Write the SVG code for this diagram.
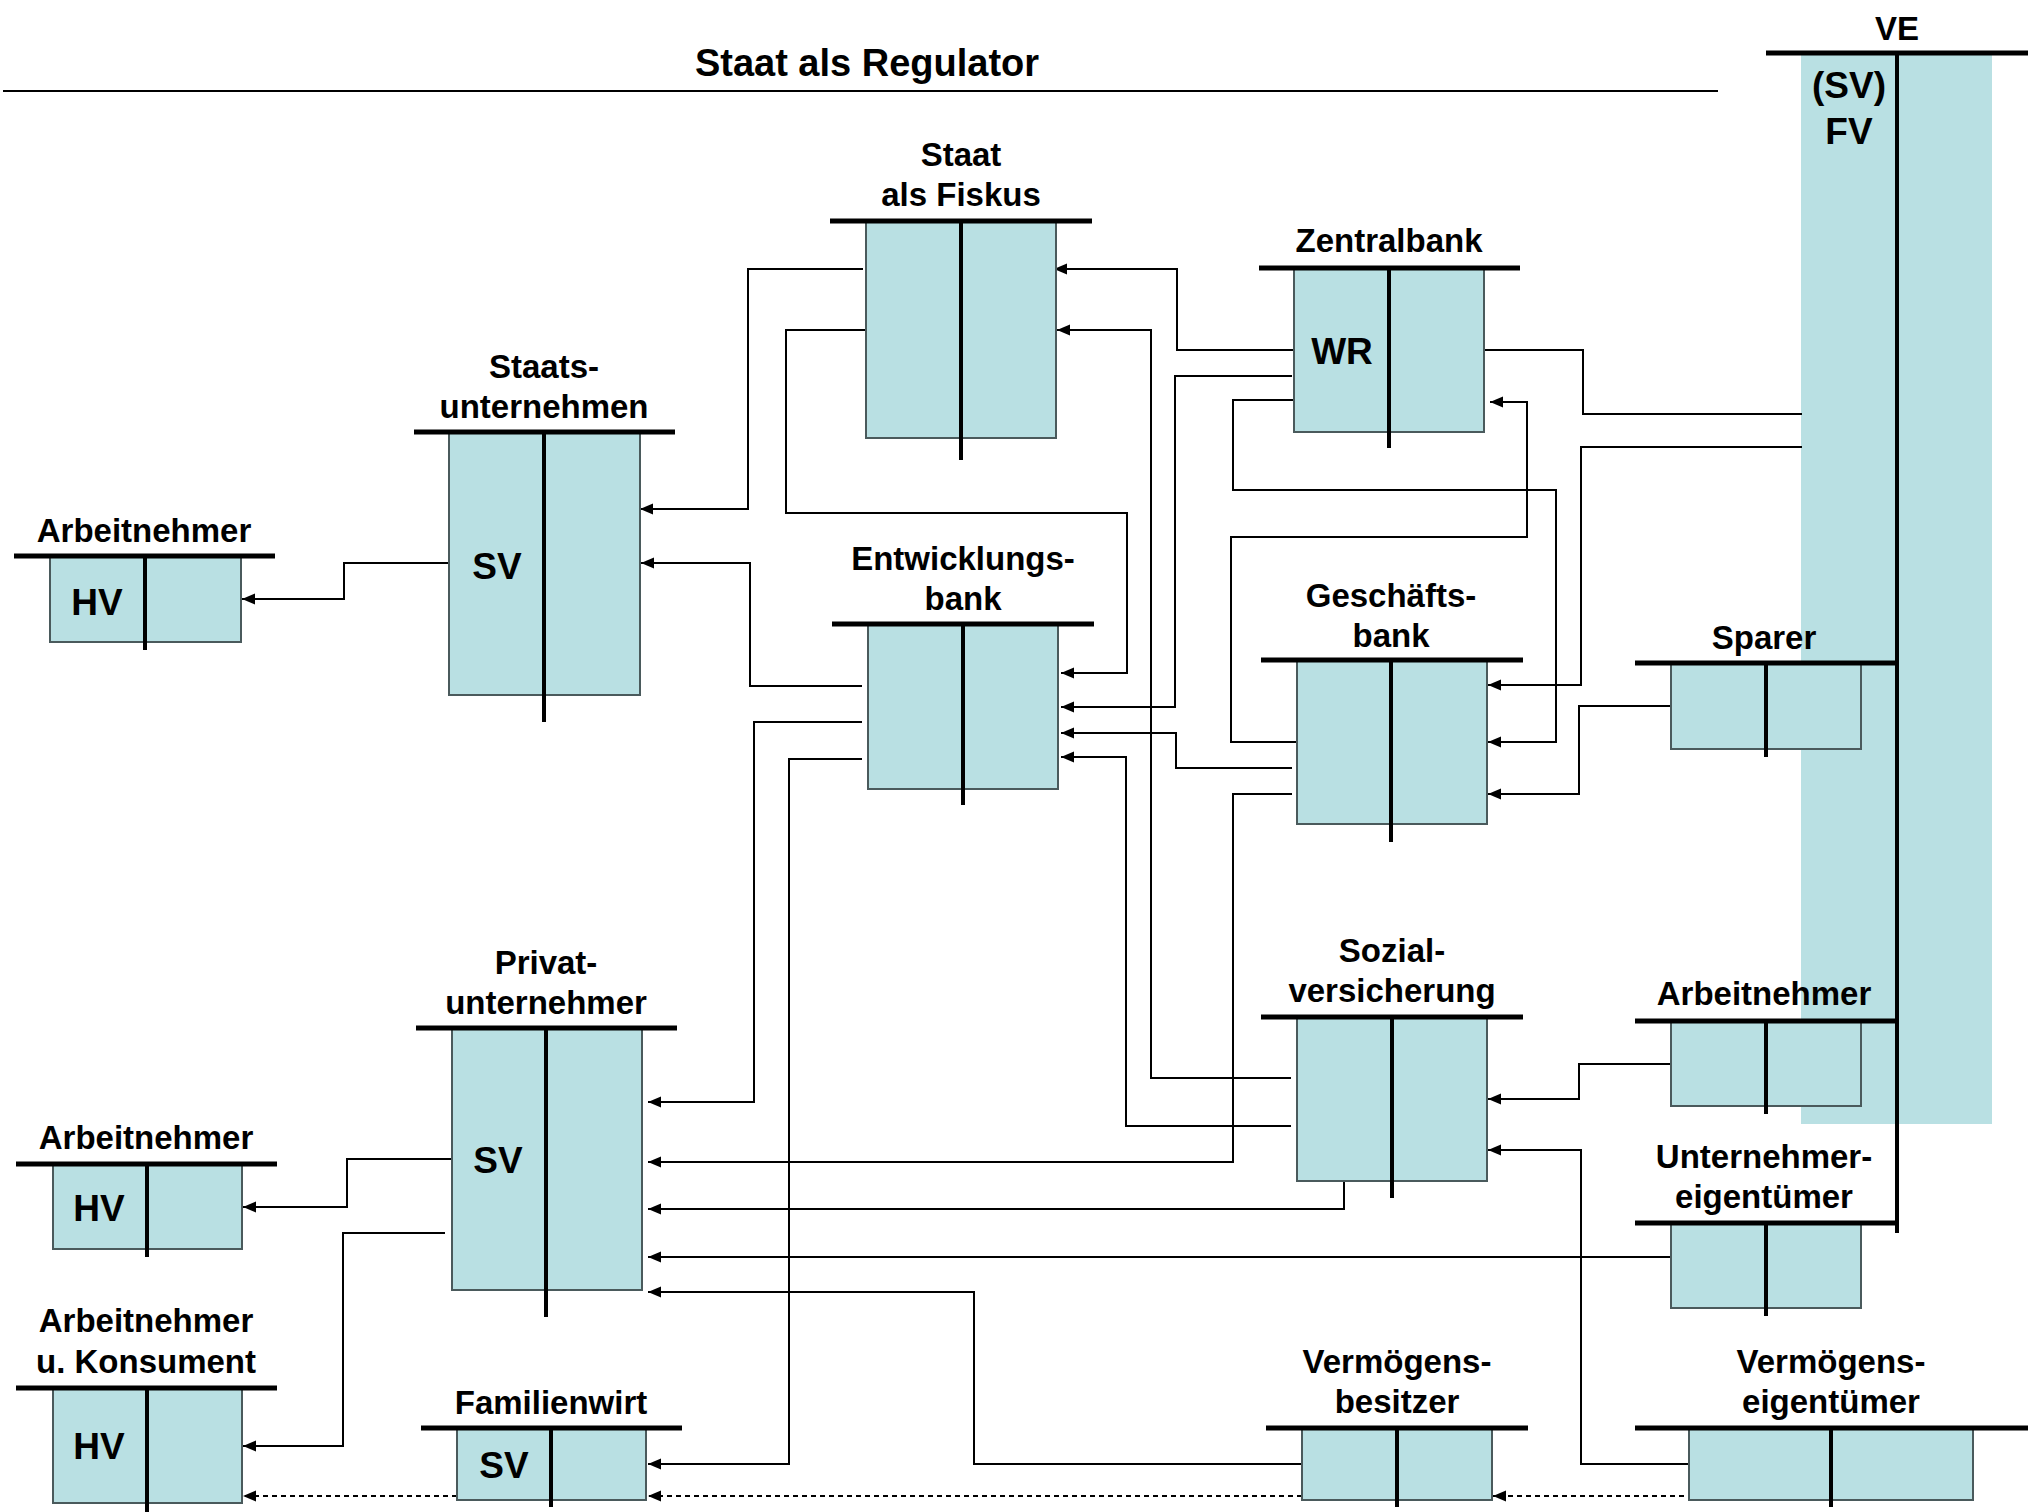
<svg xmlns="http://www.w3.org/2000/svg" width="2042" height="1512" viewBox="0 0 2042 1512">
<style>
.bg{fill:#ffffff}
.box{fill:#b9e0e3;stroke:#4a5a5c;stroke-width:2}
.ve{fill:#b9e0e3;stroke:none}
.bar{stroke:#000;stroke-width:5;fill:none}
.stem{stroke:#000;stroke-width:4;fill:none}
.lbl{font-family:"Liberation Sans",Arial,sans-serif;font-weight:bold;font-size:33px;fill:#000;text-anchor:middle}
.in{font-family:"Liberation Sans",Arial,sans-serif;font-weight:bold;font-size:37px;fill:#000;text-anchor:middle}
.title{font-family:"Liberation Sans",Arial,sans-serif;font-weight:bold;font-size:38px;fill:#000;text-anchor:middle}
.c{fill:none;stroke:#000;stroke-width:2;marker-end:url(#ah)}
.d{fill:none;stroke:#000;stroke-width:2;stroke-dasharray:5,4;marker-end:url(#ah)}
</style>
<defs>
<marker id="ah" markerUnits="userSpaceOnUse" markerWidth="14" markerHeight="12" refX="13" refY="5.5" orient="auto">
<path d="M0,0 L13,5.5 L0,11 z" fill="#000"/>
</marker>
</defs>
<rect class="bg" x="0" y="0" width="2042" height="1512"/>

<g id="title">
<text class="title" x="867" y="76">Staat als Regulator</text>
<line x1="3" y1="91" x2="1718" y2="91" stroke="#000" stroke-width="2"/>
</g>

<g id="ve">
<rect class="ve" x="1801" y="53" width="191" height="1071"/>
<line class="bar" x1="1766" y1="53" x2="2028" y2="53"/>
<line class="stem" x1="1897" y1="53" x2="1897" y2="1233"/>
<text class="lbl" x="1897" y="40">VE</text>
<text class="in" x="1849" y="98">(SV)</text>
<text class="in" x="1849" y="144">FV</text>
</g>

<g id="connectors">
<path class="c" d="M863,269 H748 V509 H640"/>
<path class="c" d="M866,330 H786 V513 H1127 V673 H1061"/>
<path class="c" d="M862,686 H750 V563 H641"/>
<path class="c" d="M449,563 H344 V599 H242"/>
<path class="c" d="M1294,350 H1177 V269 H1054"/>
<path class="c" d="M1291,1078 H1151 V330 H1057"/>
<path class="c" d="M1292,376 H1175 V707 H1061"/>
<path class="c" d="M1293,400 H1233 V490 H1556 V742 H1488"/>
<path class="c" d="M1297,742 H1231 V537 H1527 V402 H1490"/>
<path fill="none" stroke="#000" stroke-width="2" d="M1484,350 H1583 V414 H1802"/>
<path class="c" d="M1802,447 H1581 V685 H1488"/>
<path class="c" d="M1292,768 H1176 V733 H1061"/>
<path class="c" d="M1292,794 H1233 V1162 H648"/>
<path class="c" d="M1671,706 H1579 V794 H1488"/>
<path class="c" d="M862,722 H754 V1102 H648"/>
<path class="c" d="M862,759 H789 V1464 H648"/>
<path class="c" d="M1291,1126 H1126 V757 H1061"/>
<path class="c" d="M1344,1181 V1209 H648"/>
<path class="c" d="M1671,1257 H648"/>
<path class="c" d="M1302,1464 H974 V1292 H648"/>
<path class="c" d="M1671,1064 H1579 V1099 H1488"/>
<path class="c" d="M1689,1464 H1581 V1150 H1488"/>
<path class="c" d="M452,1159 H347 V1207 H243"/>
<path class="c" d="M445,1233 H343 V1446 H243"/>
<path class="d" d="M1684,1496 H1493"/>
<path class="d" d="M1302,1496 H648"/>
<path class="d" d="M457,1496 H243"/>
</g>

<g id="fiskus">
<rect class="box" x="866" y="221" width="190" height="217"/>
<line class="bar" x1="830" y1="221" x2="1092" y2="221"/>
<line class="stem" x1="961" y1="221" x2="961" y2="460"/>
<text class="lbl" x="961" y="166">Staat</text>
<text class="lbl" x="961" y="206">als Fiskus</text>
</g>

<g id="zentralbank">
<rect class="box" x="1294" y="268" width="190" height="164"/>
<line class="bar" x1="1259" y1="268" x2="1520" y2="268"/>
<line class="stem" x1="1389" y1="268" x2="1389" y2="448"/>
<text class="lbl" x="1389" y="252">Zentralbank</text>
<text class="in" x="1342" y="364">WR</text>
</g>

<g id="staatsunternehmen">
<rect class="box" x="449" y="432" width="191" height="263"/>
<line class="bar" x1="414" y1="432" x2="675" y2="432"/>
<line class="stem" x1="544" y1="432" x2="544" y2="722"/>
<text class="lbl" x="544" y="378">Staats-</text>
<text class="lbl" x="544" y="418">unternehmen</text>
<text class="in" x="497" y="579">SV</text>
</g>

<g id="arbeitnehmer1">
<rect class="box" x="50" y="556" width="191" height="86"/>
<line class="bar" x1="14" y1="556" x2="275" y2="556"/>
<line class="stem" x1="145" y1="556" x2="145" y2="650"/>
<text class="lbl" x="144" y="542">Arbeitnehmer</text>
<text class="in" x="97" y="615">HV</text>
</g>

<g id="entwicklungsbank">
<rect class="box" x="868" y="624" width="190" height="165"/>
<line class="bar" x1="832" y1="624" x2="1094" y2="624"/>
<line class="stem" x1="963" y1="624" x2="963" y2="805"/>
<text class="lbl" x="963" y="570">Entwicklungs-</text>
<text class="lbl" x="963" y="610">bank</text>
</g>

<g id="geschaeftsbank">
<rect class="box" x="1297" y="660" width="190" height="164"/>
<line class="bar" x1="1261" y1="660" x2="1523" y2="660"/>
<line class="stem" x1="1391" y1="660" x2="1391" y2="842"/>
<text class="lbl" x="1391" y="607">Geschäfts-</text>
<text class="lbl" x="1391" y="647">bank</text>
</g>

<g id="sparer">
<rect class="box" x="1671" y="663" width="190" height="86"/>
<line class="bar" x1="1635" y1="663" x2="1896" y2="663"/>
<line class="stem" x1="1766" y1="663" x2="1766" y2="757"/>
<text class="lbl" x="1764" y="649">Sparer</text>
</g>

<g id="privatunternehmer">
<rect class="box" x="452" y="1028" width="190" height="262"/>
<line class="bar" x1="416" y1="1028" x2="677" y2="1028"/>
<line class="stem" x1="546" y1="1028" x2="546" y2="1317"/>
<text class="lbl" x="546" y="974">Privat-</text>
<text class="lbl" x="546" y="1014">unternehmer</text>
<text class="in" x="498" y="1173">SV</text>
</g>

<g id="arbeitnehmer2">
<rect class="box" x="53" y="1164" width="189" height="85"/>
<line class="bar" x1="16" y1="1164" x2="277" y2="1164"/>
<line class="stem" x1="147" y1="1164" x2="147" y2="1257"/>
<text class="lbl" x="146" y="1149">Arbeitnehmer</text>
<text class="in" x="99" y="1221">HV</text>
</g>

<g id="sozialversicherung">
<rect class="box" x="1297" y="1017" width="190" height="164"/>
<line class="bar" x1="1261" y1="1017" x2="1523" y2="1017"/>
<line class="stem" x1="1392" y1="1017" x2="1392" y2="1198"/>
<text class="lbl" x="1392" y="962">Sozial-</text>
<text class="lbl" x="1392" y="1002">versicherung</text>
</g>

<g id="arbeitnehmer3">
<rect class="box" x="1671" y="1021" width="190" height="85"/>
<line class="bar" x1="1635" y1="1021" x2="1896" y2="1021"/>
<line class="stem" x1="1766" y1="1021" x2="1766" y2="1114"/>
<text class="lbl" x="1764" y="1005">Arbeitnehmer</text>
</g>

<g id="unternehmereigentuemer">
<rect class="box" x="1671" y="1223" width="190" height="85"/>
<line class="bar" x1="1635" y1="1223" x2="1896" y2="1223"/>
<line class="stem" x1="1766" y1="1223" x2="1766" y2="1316"/>
<text class="lbl" x="1764" y="1168">Unternehmer-</text>
<text class="lbl" x="1764" y="1208">eigentümer</text>
</g>

<g id="arbeitnehmer-konsument">
<rect class="box" x="53" y="1388" width="189" height="115"/>
<line class="bar" x1="16" y1="1388" x2="277" y2="1388"/>
<line class="stem" x1="147" y1="1388" x2="147" y2="1512"/>
<text class="lbl" x="146" y="1332">Arbeitnehmer</text>
<text class="lbl" x="146" y="1373">u. Konsument</text>
<text class="in" x="99" y="1459">HV</text>
</g>

<g id="familienwirt">
<rect class="box" x="457" y="1428" width="189" height="72"/>
<line class="bar" x1="421" y1="1428" x2="682" y2="1428"/>
<line class="stem" x1="551" y1="1428" x2="551" y2="1507"/>
<text class="lbl" x="551" y="1414">Familienwirt</text>
<text class="in" x="504" y="1478">SV</text>
</g>

<g id="vermoegensbesitzer">
<rect class="box" x="1302" y="1428" width="190" height="72"/>
<line class="bar" x1="1266" y1="1428" x2="1528" y2="1428"/>
<line class="stem" x1="1397" y1="1428" x2="1397" y2="1507"/>
<text class="lbl" x="1397" y="1373">Vermögens-</text>
<text class="lbl" x="1397" y="1413">besitzer</text>
</g>

<g id="vermoegenseigentuemer">
<rect class="box" x="1689" y="1428" width="284" height="72"/>
<line class="bar" x1="1635" y1="1428" x2="2028" y2="1428"/>
<line class="stem" x1="1831" y1="1428" x2="1831" y2="1507"/>
<text class="lbl" x="1831" y="1373">Vermögens-</text>
<text class="lbl" x="1831" y="1413">eigentümer</text>
</g>
</svg>
